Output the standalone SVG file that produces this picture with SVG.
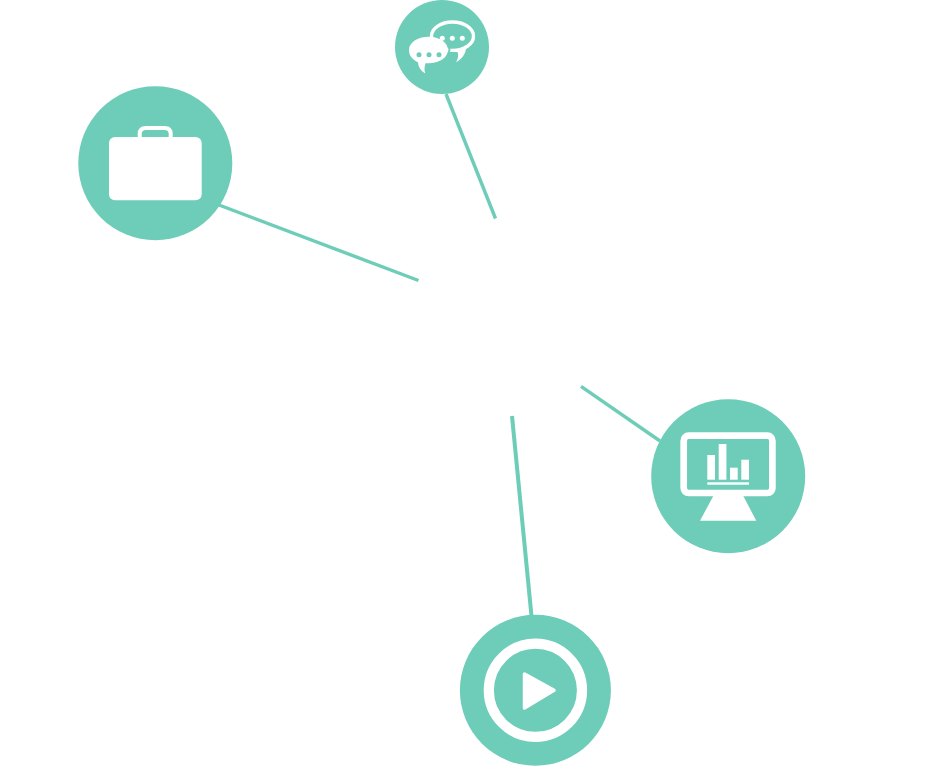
<svg xmlns="http://www.w3.org/2000/svg" width="938" height="766" viewBox="0 0 938 766">
<style>
.disc{fill:#6dcdb8}
.w{fill:#fff}
.c{stroke:#6dcdb8;stroke-width:3.400;fill:none}
</style>
<rect width="938" height="766" fill="#fff"/>
<g id="connectors">
<line class="c" x1="446" y1="94" x2="495.500" y2="218.500"/>
<line class="c" x1="219" y1="205" x2="418.500" y2="280.500"/>
<line class="c" x1="581" y1="386.300" x2="660" y2="441"/>
<line class="c" style="stroke-width:4" x1="512" y1="416" x2="531.500" y2="616"/>
</g>
<g id="node-chat">
<circle class="disc" cx="442" cy="47" r="47"/>
<ellipse cx="452.500" cy="36.200" rx="21" ry="14.200" fill="none" stroke="#fff" stroke-width="3.400"/>
<path class="w" d="M456.500 50L466 47C466 54 462 59 456 62.200C458.500 58 459 54 456.500 50Z"/>
<circle class="w" cx="442.300" cy="38.300" r="2.500"/><circle class="w" cx="452.300" cy="38.300" r="2.500"/><circle class="w" cx="462.300" cy="38.300" r="2.500"/>
<path class="w" d="M428.500 36.700C417.700 36.700 409 42.600 409 50C409 55.500 412.500 59.800 418 62.300C418.300 66.500 420.500 70.800 425.300 73.500C424 70 424.500 66.500 425.500 63.300L428.500 63.300C439.300 63.300 448 57.400 448 50C448 42.600 439.300 36.700 428.500 36.700Z" stroke="#6dcdb8" stroke-width="0"/>
<path d="M448.500 43.500C450 47 450 53 447 56.500" fill="none" stroke="#6dcdb8" stroke-width="2"/>
<circle class="disc" cx="419" cy="54.700" r="2.500"/><circle class="disc" cx="429" cy="54.700" r="2.500"/><circle class="disc" cx="439" cy="54.700" r="2.500"/>
</g>
<g id="node-briefcase">
<circle class="disc" cx="155.300" cy="163.200" r="77"/>
<rect class="w" x="109" y="137" width="92.700" height="63.300" rx="6"/>
<path d="M139.700 138V134C139.700 130 142 128 146 128H164.700C168.700 128 170.700 130 170.700 134V138" fill="none" stroke="#fff" stroke-width="4"/>
</g>
<g id="node-monitor">
<circle class="disc" cx="728.200" cy="476.200" r="77"/>
<rect x="683.700" y="435.700" width="88.700" height="57.300" rx="5" fill="none" stroke="#fff" stroke-width="6.700"/>
<path class="w" d="M713.300 496H743.300L756.300 520.700H700Z"/>
<rect class="w" x="707.300" y="455" width="7.700" height="24.700"/>
<rect class="w" x="718.700" y="444" width="7.700" height="35.700"/>
<rect class="w" x="730" y="467.700" width="7.700" height="12"/>
<rect class="w" x="741.300" y="459.700" width="7.700" height="20"/>
<rect class="w" x="707.300" y="482.300" width="41.700" height="2.400"/>
</g>
<g id="node-play">
<circle class="disc" cx="535.400" cy="690.300" r="75.500"/>
<circle cx="535.400" cy="690.300" r="46.600" fill="none" stroke="#fff" stroke-width="10.200"/>
<path class="w" d="M524.500 674L554 690.300L524.500 708Z" stroke="#fff" stroke-width="3.500" stroke-linejoin="round"/>
</g>
</svg>
